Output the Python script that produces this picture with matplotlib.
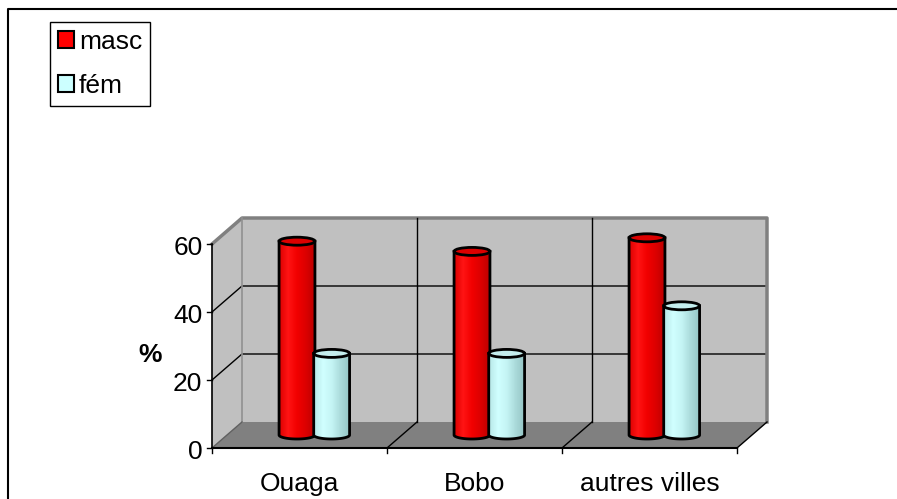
import matplotlib
matplotlib.use("Agg")
import matplotlib.pyplot as plt
import numpy as np
from matplotlib.patches import Polygon, Ellipse, PathPatch, Patch
from matplotlib.path import Path
from matplotlib.colors import to_rgb
from matplotlib.lines import Line2D

plt.rcParams["font.family"] = ["Liberation Sans", "DejaVu Sans"]

# Data
categories = ["Ouaga", "Bobo", "autres villes"]
masc = [57, 54, 58]
fem = [24, 24, 38]
series_names = ["masc", "fém"]
y_ticks = [0, 20, 40, 60]
y_max = 60

# Colours
RED_STOPS = ["#dc0000", "#ff1414", "#f20000", "#dc0000", "#bc0000"]
CYAN_STOPS = ["#b8e8e8", "#d0ffff", "#c4f4f4", "#aadada", "#94c4c4"]
RED_TOP = "#dc0000"
CYAN_TOP = "#c4eeee"
WALL = "#c0c0c0"
FLOOR = "#808080"
FS = 19

# Pseudo-3D geometry: depth offset of the back wall (in data units)
DX = 30 / 175
DY = 26 / 3.4
BAR_W = 0.205
ELL_H = 8 / 3.4


def gradient(stops, n=60):
    pos = np.linspace(0, 1, len(stops))
    rgb = np.array([to_rgb(c) for c in stops])
    xs = np.linspace(0, 1, n)
    arr = np.stack([np.interp(xs, pos, rgb[:, k]) for k in range(3)], axis=-1)
    return arr[np.newaxis, :, :]


def cylinder(ax, xc, y0, y1, stops, top_color, z):
    w = BAR_W
    t = np.linspace(np.pi, 2 * np.pi, 50)
    bx = xc + w / 2 * np.cos(t)
    by = y0 + ELL_H / 2 * np.sin(t)
    verts = [(xc - w / 2, y1)] + list(zip(bx, by)) + [(xc + w / 2, y1), (xc - w / 2, y1)]
    body = PathPatch(Path(verts, closed=True), fc="none", ec="black", lw=2, zorder=z + 1)
    ax.add_patch(body)
    im = ax.imshow(gradient(stops), extent=(xc - w / 2, xc + w / 2, y0 - ELL_H / 2, y1),
                   aspect="auto", interpolation="bilinear", zorder=z)
    im.set_clip_path(body)
    ax.add_patch(Ellipse((xc, y1), w, ELL_H, fc=top_color, ec="black", lw=2, zorder=z + 2))


fig = plt.figure(figsize=(8.97, 4.99), dpi=100)
ax = fig.add_axes([0, 0, 1, 1])
ax.axis("off")

n = len(categories)

# walls and floor
ax.add_patch(Polygon([(0, 0), (DX, DY), (DX, y_max + DY), (0, y_max)], fc=WALL, ec="none", zorder=1))
ax.add_patch(Polygon([(DX, DY), (n + DX, DY), (n + DX, y_max + DY), (DX, y_max + DY)],
                     fc=WALL, ec="none", zorder=1))
ax.add_patch(Polygon([(0, 0), (n, 0), (n + DX, DY), (DX, DY)], fc=FLOOR, ec="none", zorder=1))

# gridlines on side and back wall
for v in y_ticks[1:-1]:
    ax.plot([0, DX, n + DX], [v, v + DY, v + DY], color="black", lw=1, zorder=2)
ax.plot([0, DX, n + DX, n + DX], [y_max, y_max + DY, y_max + DY, DY], color="#808080", lw=2.5, zorder=2)
ax.plot([DX, DX], [DY, y_max + DY], color="#909090", lw=1.2, zorder=2)
ax.plot([0, DX], [0, DY], color="#606060", lw=1, zorder=2)
for i in range(1, n):
    ax.plot([i + DX, i + DX], [DY, y_max + DY], color="black", lw=1, zorder=2)
for i in range(1, n + 1):
    ax.plot([i, i + DX], [0, DY], color="black", lw=1, zorder=2)

# axes lines and ticks
ax.plot([0, 0], [0, y_max], color="black", lw=1.2, zorder=3)
ax.plot([0, n], [0, 0], color="black", lw=1.5, zorder=3)
for v in y_ticks:
    ax.plot([-0.03, 0], [v, v], color="black", lw=1, zorder=3)
    ax.text(-0.055, v - 1.1, str(v), ha="right", va="center", fontsize=FS, zorder=3)
for i in range(n + 1):
    ax.plot([i, i], [0, -1.5], color="black", lw=1, zorder=3)
for i, c in enumerate(categories):
    ax.text(i + 0.5, -10.5, c, ha="center", va="center", fontsize=FS)
ax.text(-0.354, 27.4, "%", ha="center", va="center", fontsize=FS, fontweight="bold")

# cylinders, placed half way into the depth
z = 5
for i in range(n):
    xc = i + 0.5 + DX / 2
    y0 = DY / 2
    cylinder(ax, xc - 0.1, y0, y0 + masc[i], RED_STOPS, RED_TOP, z)
    cylinder(ax, xc + 0.098, y0, y0 + fem[i], CYAN_STOPS, CYAN_TOP, z + 3)
    z += 6

ax.set_xlim(-212 / 175, (897 - 212) / 175)
ax.set_ylim(-51 / 3.4, 448 / 3.4)

# legend
handles = [Patch(fc="#ff0000", ec="black", lw=1.5), Patch(fc="#ccffff", ec="black", lw=1.5)]
leg = fig.legend(handles, series_names, loc="upper left", bbox_to_anchor=(50 / 897, 1 - 22 / 499),
                 frameon=True, fancybox=False, edgecolor="black", framealpha=1, fontsize=FS,
                 handlelength=0.6, handleheight=0.6, handletextpad=0.2, borderpad=0.3,
                 labelspacing=0.75, borderaxespad=0)
leg.get_frame().set_linewidth(1)

# outer chart border (top and left visible)
fig.add_artist(Line2D([8 / 897, 8 / 897, 1], [0, 1 - 9 / 499, 1 - 9 / 499],
                      transform=fig.transFigure, color="black", lw=1.5))

fig.savefig("out.png", dpi=100)
